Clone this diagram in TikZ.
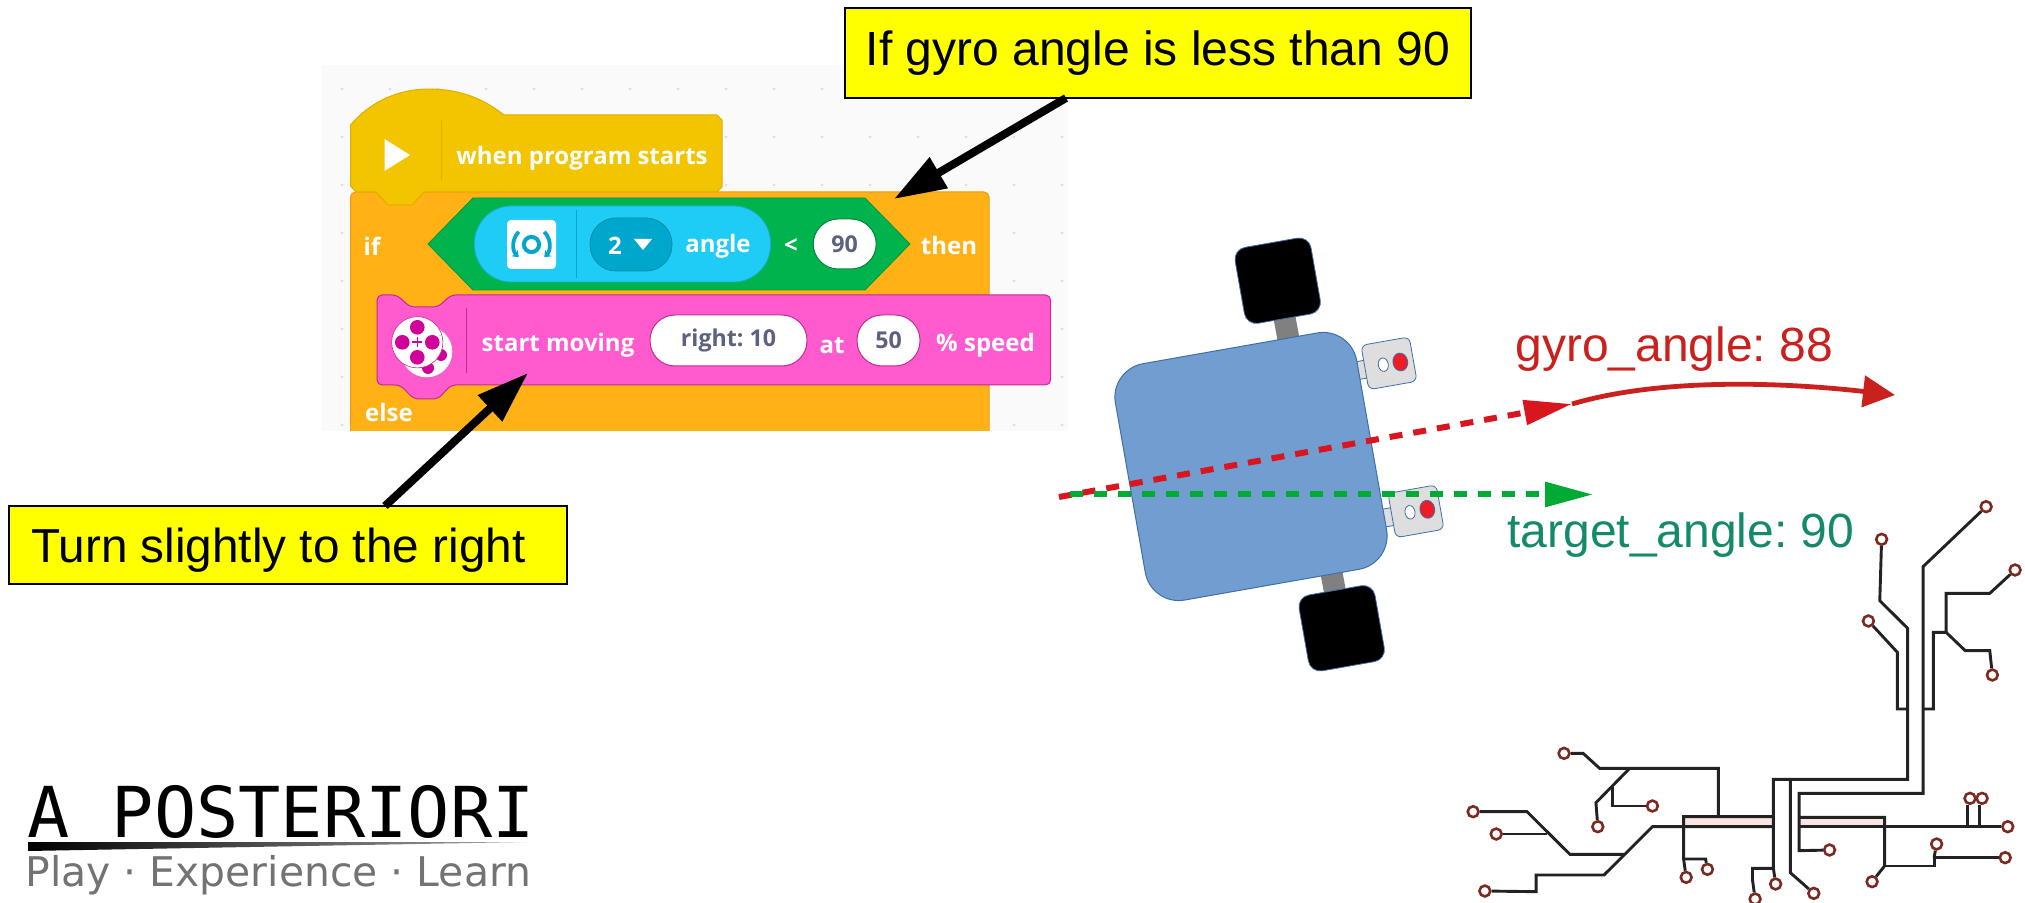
\documentclass[tikz,border=0pt]{standalone}
\usepackage{fontspec}
\setmainfont{Liberation Sans}
\newfontfamily\blockfont{Open Sans}[BoldFont={Open Sans Bold}]
\newfontfamily\logomono{DejaVu Sans Mono}
\newfontfamily\logosans{DejaVu Sans}
\usetikzlibrary{arrows.meta,shapes.geometric}
\frenchspacing
\definecolor{noteyellow}{HTML}{FFFF00}
\definecolor{hatyellow}{HTML}{F3C400}
\definecolor{hatedge}{HTML}{DDB000}
\definecolor{ctrlorange}{HTML}{FFB116}
\definecolor{ctrledge}{HTML}{E89D0C}
\definecolor{opgreen}{HTML}{00B34D}
\definecolor{sensecyan}{HTML}{1FCCF5}
\definecolor{sensedark}{HTML}{00A7CC}
\definecolor{movepink}{HTML}{FF5BCE}
\definecolor{moveedge}{HTML}{C02C96}
\definecolor{movedot}{HTML}{D0009A}
\definecolor{valgray}{HTML}{5C6180}
\definecolor{chassis}{HTML}{729DD0}
\definecolor{chassisedge}{HTML}{3F6FA8}
\definecolor{gyrored}{HTML}{C9211E}
\definecolor{dashred}{HTML}{D9161F}
\definecolor{ledred}{HTML}{EE1C25}
\definecolor{targetgreen}{HTML}{00AB35}
\definecolor{targetteal}{HTML}{158A6B}
\definecolor{padbrown}{HTML}{7B2A22}
\definecolor{trace}{HTML}{222222}
\definecolor{bandpink}{HTML}{F9E4E4}
\tikzset{
  note/.style={draw=black,line width=1pt,fill=noteyellow,inner sep=0pt},
  notetext/.style={inner sep=0pt,font=\fontsize{#1}{28}\selectfont},
  callout/.style={line width=4pt,draw=black,-{Triangle[length=26pt,width=17pt]}},
  blocktext/.style={text=white,font=\blockfont\bfseries\fontsize{12}{14}\selectfont,inner sep=0pt},
  pill/.style={fill=white,draw=#1,line width=.5pt,inner sep=0pt,text=valgray,font=\blockfont\bfseries\fontsize{11.6}{13}\selectfont},
  wheel/.style={fill=black,draw=chassisedge,line width=.4pt,rounded corners=6pt,rotate=10,minimum width=38.5pt,minimum height=38.5pt,inner sep=0pt},
  sensorbox/.style={fill=black!13,draw=chassisedge,line width=.4pt,rounded corners=3pt,rotate=10,minimum width=24.5pt,minimum height=22.5pt,inner sep=0pt},
  sensorneck/.style={fill=black!13,draw=chassisedge,line width=.4pt,rotate=10,minimum width=8pt,minimum height=9pt,inner sep=0pt},
  whitedot/.style={ellipse,fill=white,draw=chassisedge,line width=.4pt,rotate=10,minimum width=5pt,minimum height=6.8pt,inner sep=0pt},
  reddot/.style={ellipse,fill=ledred,draw=chassisedge,line width=.4pt,rotate=10,minimum width=7.4pt,minimum height=9pt,inner sep=0pt},
  pad/.style={circle,fill=white,draw=padbrown,line width=1.3pt,minimum size=5.4pt,inner sep=0pt},
  wire/.style={draw=trace,line width=1.45pt,line join=miter},
  dashline/.style={line width=3pt,dash pattern=on 6.5pt off 5.5pt},
}
\begin{document}
\begin{tikzpicture}[x=.5pt,y=-.5pt]
\useasboundingbox (0,0) rectangle (2025,903);

% Block editor canvas and its dot grid
\fill[black!2] (322,65) rectangle (1068,431);
\foreach \gx in {342,390,...,1062}
  \foreach \gy in {89,137,...,425}
    \fill[black!12] (\gx,\gy) circle (.8pt);

% Orange if/else block
\path[fill=ctrlorange,draw=ctrledge,line width=.5pt,rounded corners=2.5pt]
  (350.5,431) -- (350.5,192) -- (989,192) -- (989,431);
\fill[ctrlorange] (351,425) rectangle (988.7,431);

% Yellow start hat with its tab
\path[fill=hatyellow,draw=hatedge,line width=.5pt]
  (350.5,186) -- (350.5,125) .. controls (370,102) and (398,89) .. (429,89)
  .. controls (462,89) and (485,100) .. (504,115) -- (717,115) -- (722,120) -- (722,187) -- (717,192)
  -- (424,192) -- (412,205) -- (388,205) -- (376,192) -- (356,192) -- cycle;
\draw[hatedge,line width=.5pt] (441,120) -- (441,180);
\fill[white] (384.5,139) -- (410,155) -- (384.5,171) -- cycle;
\node[blocktext] (whenlabel) at (582,158.5) {when program starts};

% Green comparison hexagon
\path[fill=opgreen,draw=opgreen!85!black,line width=.4pt]
  (428,244) -- (473,198) -- (865,198) -- (910,244) -- (865,290) -- (473,290) -- cycle;
\node[fill=sensecyan,draw=sensecyan!85!black,line width=.4pt,rounded corners=18.5pt,minimum width=148pt,minimum height=38pt,inner sep=0pt] (sensorpill) at (622.5,244) {};
\draw[sensedark,line width=.5pt] (576,210) -- (576,278);
\node[fill=white,rounded corners=2pt,minimum width=24.5pt,minimum height=24.5pt,inner sep=0pt] (gyroicon) at (531.5,244.5) {};
\draw[sensedark,line width=2pt] (gyroicon.center) circle (3.8pt);
\draw[sensedark,line width=1.9pt,-{Stealth[length=3pt,width=4.5pt]}] (gyroicon.center) ++(135:9pt) arc[start angle=135,end angle=225,radius=9pt];
\draw[sensedark,line width=1.9pt,-{Stealth[length=3pt,width=4.5pt]}] (gyroicon.center) ++(45:9pt) arc[start angle=45,end angle=-45,radius=9pt];
\node[fill=sensedark,draw=sensedark!85!black,line width=.4pt,rounded corners=13pt,minimum width=41pt,minimum height=26.5pt,inner sep=0pt] (portpill) at (631,244.5) {};
\node[blocktext] (portlabel) at (615,246) {2};
\fill[white] (634,239) -- (652,239) -- (643,250) -- cycle;
\node[blocktext] (anglelabel) at (718,246) {angle};
\node[blocktext] (ltlabel) at (791,246) {<};
\node[pill=opgreen!75!black,rounded corners=12.5pt,minimum width=31.5pt,minimum height=25pt] (ninety) at (844.7,244) {\raisebox{-.7pt}{90}};
\node[blocktext] (iflabel) at (372,246) {if};
\node[blocktext] (thenlabel) at (949,246) {then};

% Pink motor block
\path[fill=movepink,draw=moveedge,line width=.5pt,rounded corners=2.5pt]
  (377,295) -- (397,295) -- (410,307) -- (438,307) -- (451,295) -- (1050.5,295)
  -- (1050.5,385) -- (451,385) -- (438,399) -- (414,399) -- (400,385) -- (377,385) -- cycle;
\draw[moveedge,line width=.5pt] (466,308) -- (466,373);
\fill[white] (426.7,351.7) circle (12.8pt);
\fill[movedot] (441,355) circle (3pt);
\fill[movedot] (428,368) circle (3pt);
\fill[white,draw=moveedge,line width=.3pt] (417.3,342.3) circle (12.8pt);
\foreach \dx/\dy in {15/0,-15/0,0/15,0/-15}
  \fill[movedot] (417.3+\dx,342.3+\dy) circle (3.65pt);
\draw[movedot,line width=.8pt] (412.3,342.3) -- (422.3,342.3) (417.3,337.3) -- (417.3,347.3);
\node[blocktext] (startlabel) at (558,345.5) {start moving};
\node[pill=moveedge,rounded corners=12.5pt,minimum width=78.5pt,minimum height=25.5pt] (rightten) at (728.5,340.5) {\raisebox{-1.6pt}{right: 10}};
\node[blocktext] (atlabel) at (832,345.5) {at};
\node[pill=moveedge,rounded corners=12.5pt,minimum width=31.5pt,minimum height=25.5pt] (fifty) at (888.5,340.5) {\raisebox{-.7pt}{50}};
\node[blocktext] (speedlabel) at (985.5,345.5) {\% speed};
\node[blocktext] (elselabel) at (389,413) {else};

% Call-out notes
\node[note,minimum width=313pt,minimum height=45pt] (noteif) at (1158,53) {};
\node[notetext=24] (noteiftext) at (noteif.center) {If gyro angle is less than 90};
\node[note,minimum width=279pt,minimum height=39pt] (noteturn) at (288,545) {};
\node[notetext=23.85,anchor=base west] (noteturntext) at (31,562) {Turn slightly to the right};
\coordinate (ifout) at (1066,98);
\coordinate (iftip) at (894,199);
\coordinate (turnout) at (385,506);
\coordinate (turntip) at (528,373);
\draw[callout] (ifout) -- (iftip);
\draw[callout] (turnout) -- (turntip);

% Robot seen from above
\coordinate (axletop) at (1277.7,280.7);
\coordinate (axlebottom) at (1341.7,628.3);
\draw[black!50,line width=11pt] (axletop) -- (axlebottom);
\node[wheel] (wheeltop) at (axletop) {};
\node[wheel] (wheelbottom) at (axlebottom) {};
\node[sensorneck] (neckone) at (1361,370) {};
\node[sensorneck] (necktwo) at (1388.3,517.3) {};
\node[fill=chassis,draw=chassisedge,line width=.5pt,rounded corners=17pt,rotate=10,minimum width=122.5pt,minimum height=120pt,inner sep=0pt] (body) at (1251,466.5) {};
\node[sensorbox] (sensorone) at (1389,363.3) {};
\node[sensorbox] (sensortwo) at (1416,511.3) {};
\node[whitedot] (ledaone) at (1383.3,364.7) {};
\node[reddot] (ledbone) at (1400.3,362) {};
\node[whitedot] (ledatwo) at (1410,512.3) {};
\node[reddot] (ledbtwo) at (1427.3,509.3) {};

% Heading lines
\coordinate (redstart) at (1059,497);
\coordinate (redtip) at (1572,404);
\coordinate (curvetip) at (1895,395);
\coordinate (greenstart) at (1070,494.5);
\coordinate (greentip) at (1593,494.5);
\draw[dashline,draw=dashred,-{Triangle[length=24pt,width=12pt,fill=dashred]}] (redstart) -- (redtip);
\draw[gyrored,line width=2.4pt,-{Triangle[length=16pt,width=15.5pt]}] (redtip) .. controls (1660,378) and (1780,382) .. (curvetip);
\draw[dashline,draw=targetgreen,-{Triangle[length=24pt,width=12pt,fill=targetgreen]}] (greenstart) -- (greentip);
\node[anchor=base west,inner sep=0pt,text=gyrored,font=\fontsize{24}{28}\selectfont] (gyrolabel) at (1515,361.7) {gyro\_angle: 88};
\node[anchor=base west,inner sep=0pt,text=targetteal,font=\fontsize{24}{28}\selectfont] (targetlabel) at (1507,547.7) {target\_angle: 90};

% Logo
\node[anchor=base west,inner sep=0pt,font=\logomono\fontsize{35.1}{40}\selectfont] (logotitle) at (27,837) {A POSTERIORI};
\shade[left color=black,middle color=black,right color=black!35] (28,842) -- (527,842) -- (28,851) -- cycle;
\node[anchor=base west,inner sep=0pt,text=black!55,font=\logosans\fontsize{20.45}{24}\selectfont] (logotag) at (25,886) {Play · Experience · Learn};

% Line follower track, a branching set of traces ending in round pads
\begin{scope}[shift={(1450,480)},x=.18335pt,y=-.16667pt]
\fill[bandpink] (637,1010) rectangle (882,1040);
\fill[bandpink] (952,1012) rectangle (1185,1040);
\foreach \pname/\px/\py in {pa/1462/80,pb/1177/178,pc/1141/423,pd/1541/270,pe/1479/585,pf/1035/1110,pg/888/1212,ph/832/1257,pi/992/1240,pj/311/820,pk/403/1040,pl/552/978,pm/63/995,pn/126/1062,po/95/1233,pp/644/1192,pq/702/1168,pr/1418/955,ps/1451/955,pt/1521/1040,pu/1327/1092,pv/1514/1133,pw/1151/1205}
  \node[pad] (\pname) at (\px,\py) {};
\draw[wire] (pa) -- (1290,260) -- (1290,940) -- (952,940) -- (952,1112) -- (pf);
\draw[wire] (pb) -- (1172,362) -- (1248,445) -- (1248,898) -- (882,898) -- (882,1165) -- (pg);
\draw[wire] (882,1165) -- (825,1165) -- (825,1200) -- (ph);
\draw[wire] (928,898) -- (928,1178) -- (pi);
\draw[wire] (pc) -- (1220,517) -- (1220,687) -- (1248,687);
\draw[wire] (1290,687) -- (1318,687) -- (1318,457) -- (1353,457) -- (1353,340) -- (1472,340) -- (pd);
\draw[wire] (1353,457) -- (1405,512) -- (1472,512) -- (pe);
\draw[wire] (pj) -- (363,820) -- (408,865) -- (732,865) -- (732,1010);
\draw[wire] (490,865) -- (398,968) -- (pk);
\draw[wire] (443,920) -- (443,978) -- (pl);
\draw[wire] (882,1010) -- (637,1010) -- (637,1137) -- (pp);
\draw[wire] (637,1137) -- (697,1137) -- (pq);
\draw[wire] (882,1040) -- (552,1040) -- (420,1185) -- (235,1185) -- (235,1235) -- (po);
\draw[wire] (pm) -- (210,995) -- (327,1123) -- (475,1123);
\draw[wire] (pn) -- (265,1062);
\draw[wire] (952,1012) -- (1185,1012) -- (1185,1158) -- (pw);
\draw[wire] (952,1040) -- (pt);
\draw[wire] (1412,1040) -- (1412,975);
\draw[wire] (1443,1040) -- (1443,975);
\draw[wire] (1185,1158) -- (1320,1158) -- (1320,1133) -- (pv);
\draw[wire] (1320,1133) -- (pu);
\end{scope}
\end{tikzpicture}
\end{document}
